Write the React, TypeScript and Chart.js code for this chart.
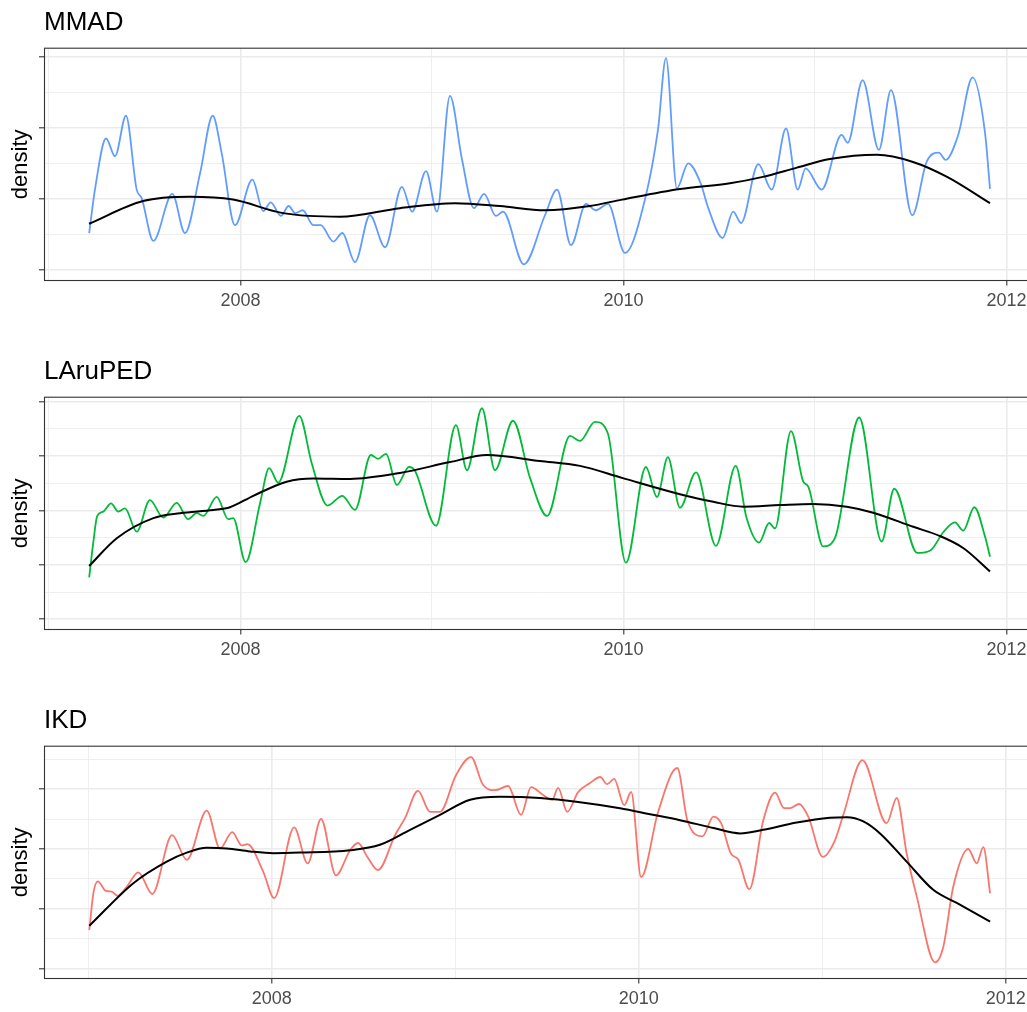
import { useEffect, useRef } from "react";
import { Chart, registerables } from "chart.js";

Chart.register(...registerables);

const FONT = "'Liberation Sans', Arial, Helvetica, sans-serif";

// Year grid: every year gets a grid line, even years are labelled
const YEAR_TICKS = [2007, 2008, 2009, 2010, 2011, 2012];
const YEAR_LABELS = [2008, 2010, 2012];

// ---- MMAD ----
const MMAD_YEARS = [
  2007.21, 2007.24, 2007.298, 2007.345, 2007.402, 2007.458, 2007.484, 2007.545, 2007.644, 2007.71,
  2007.789, 2007.855, 2007.902, 2007.971, 2008.062, 2008.119, 2008.158, 2008.211, 2008.252, 2008.285,
  2008.325, 2008.38, 2008.419, 2008.485, 2008.532, 2008.598, 2008.676, 2008.755, 2008.843, 2008.896,
  2008.969, 2009.026, 2009.094, 2009.157, 2009.219, 2009.272, 2009.334, 2009.371, 2009.48, 2009.59,
  2009.653, 2009.726, 2009.804, 2009.856, 2009.919, 2010.008, 2010.112, 2010.18, 2010.222, 2010.279,
  2010.338, 2010.403, 2010.443, 2010.518, 2010.573, 2010.614, 2010.704, 2010.774, 2010.849, 2010.91,
  2010.951, 2011.035, 2011.139, 2011.171, 2011.249, 2011.334, 2011.397, 2011.508, 2011.583, 2011.647,
  2011.682, 2011.748, 2011.823, 2011.888, 2011.914,
];
const MMAD_DENSITY = [
  0.52, 1.13, 1.85, 1.6, 2.17, 1.13, 1.01, 0.41, 1.07, 0.52,
  1.36, 2.17, 1.64, 0.63, 1.27, 0.83, 0.95, 0.76, 0.9, 0.8,
  0.84, 0.63, 0.63, 0.4, 0.52, 0.11, 0.77, 0.32, 1.17, 0.82,
  1.39, 0.82, 2.45, 1.55, 0.87, 1.07, 0.76, 0.82, 0.08, 0.77,
  1.13, 0.35, 0.93, 0.84, 0.93, 0.24, 0.99, 1.97, 2.98, 1.15,
  1.5, 1.22, 0.87, 0.45, 0.82, 0.66, 1.49, 1.13, 1.99, 1.13,
  1.43, 1.13, 1.9, 1.79, 2.67, 1.69, 2.53, 0.77, 1.52, 1.65,
  1.55, 1.9, 2.71, 1.93, 1.14,
];
const MMAD_TREND_YEARS = [
  2007.209, 2007.491, 2007.736, 2007.961, 2008.222, 2008.52, 2008.833, 2009.12, 2009.355, 2009.59,
  2009.825, 2009.992, 2010.295, 2010.556, 2010.728, 2010.906, 2011.078, 2011.324, 2011.512, 2011.69,
  2011.914,
];
const MMAD_TREND = [
  0.65, 0.97, 1.03, 0.99, 0.8, 0.75, 0.87, 0.94, 0.9, 0.84,
  0.9, 0.99, 1.14, 1.22, 1.31, 1.44, 1.56, 1.62, 1.52, 1.31,
  0.94,
];
const MMAD_Y_TICKS = [0, 0.5, 1, 1.5, 2, 2.5, 3];

// ---- LAruPED ----
const LARUPED_YEARS = [
  2007.21, 2007.231, 2007.252, 2007.284, 2007.324, 2007.362, 2007.397, 2007.458, 2007.527, 2007.597,
  2007.667, 2007.727, 2007.771, 2007.806, 2007.876, 2007.936, 2007.962, 2008.027, 2008.102, 2008.15,
  2008.197, 2008.307, 2008.372, 2008.455, 2008.532, 2008.598, 2008.681, 2008.718, 2008.76, 2008.817,
  2008.88, 2008.911, 2009.021, 2009.125, 2009.183, 2009.261, 2009.329, 2009.423, 2009.512, 2009.601,
  2009.721, 2009.773, 2009.851, 2009.919, 2010.013, 2010.117, 2010.175, 2010.232, 2010.295, 2010.379,
  2010.483, 2010.586, 2010.643, 2010.708, 2010.761, 2010.791, 2010.875, 2010.939, 2010.965, 2011.043,
  2011.104, 2011.231, 2011.348, 2011.414, 2011.534, 2011.604, 2011.67, 2011.731, 2011.774, 2011.832,
  2011.888, 2011.914,
];
const LARUPED_DENSITY = [
  0.77, 1.4, 1.9, 1.98, 2.13, 1.98, 2.04, 1.61, 2.19, 1.87,
  2.14, 1.84, 1.95, 1.9, 2.25, 1.84, 1.86, 1.05, 2.13, 2.78,
  2.51, 3.74, 2.87, 2.09, 2.27, 2.01, 3.02, 2.95, 3.04, 2.47,
  2.8, 2.73, 1.72, 3.57, 2.74, 3.88, 2.74, 3.65, 2.6, 1.9,
  3.37, 3.28, 3.63, 3.41, 1.04, 2.8, 2.25, 2.98, 2.05, 2.7,
  1.35, 2.82, 1.86, 1.41, 1.77, 1.67, 3.46, 2.53, 2.44, 1.34,
  1.49, 3.71, 1.43, 2.4, 1.22, 1.27, 1.6, 1.78, 1.63, 2.06,
  1.52, 1.15,
];
const LARUPED_TREND_YEARS = [
  2007.21, 2007.354, 2007.545, 2007.684, 2007.858, 2007.945, 2008.067, 2008.241, 2008.38, 2008.572,
  2008.833, 2009.094, 2009.287, 2009.564, 2009.773, 2009.992, 2010.295, 2010.469, 2010.626, 2010.817,
  2010.991, 2011.166, 2011.304, 2011.513, 2011.653, 2011.774, 2011.914,
];
const LARUPED_TREND = [
  0.98, 1.49, 1.86, 1.95, 2.01, 2.06, 2.27, 2.53, 2.59, 2.58,
  2.69, 2.89, 3.02, 2.91, 2.82, 2.6, 2.3, 2.16, 2.07, 2.1,
  2.12, 2.07, 1.96, 1.7, 1.53, 1.31, 0.88,
];
const LARUPED_Y_TICKS = [0, 0.5, 1, 1.5, 2, 2.5, 3, 3.5, 4];

// ---- IKD ----
const IKD_YEARS = [
  2007.006, 2007.028, 2007.052, 2007.097, 2007.128, 2007.159, 2007.21, 2007.273, 2007.349, 2007.457,
  2007.537, 2007.646, 2007.718, 2007.785, 2007.837, 2007.867, 2007.954, 2008.013, 2008.122, 2008.196,
  2008.269, 2008.35, 2008.427, 2008.47, 2008.525, 2008.579, 2008.672, 2008.727, 2008.797, 2008.863,
  2008.917, 2009.004, 2009.086, 2009.151, 2009.217, 2009.288, 2009.359, 2009.413, 2009.479, 2009.528,
  2009.561, 2009.61, 2009.67, 2009.735, 2009.79, 2009.828, 2009.866, 2009.921, 2009.959, 2010.013,
  2010.106, 2010.21, 2010.265, 2010.347, 2010.407, 2010.449, 2010.501, 2010.543, 2010.603, 2010.679,
  2010.743, 2010.792, 2010.825, 2010.874, 2010.924, 2011.003, 2011.07, 2011.115, 2011.219, 2011.351,
  2011.406, 2011.46, 2011.515, 2011.615, 2011.66, 2011.714, 2011.796, 2011.842, 2011.878, 2011.915,
];
const IKD_DENSITY = [
  0.65, 1.26, 1.46, 1.3, 1.29, 1.22, 1.37, 1.61, 1.25, 2.23,
  1.82, 2.64, 2.01, 2.28, 2.06, 2.08, 1.62, 1.18, 2.36, 1.76,
  2.5, 1.56, 1.98, 2.1, 1.85, 1.65, 2.23, 2.52, 2.97, 2.62,
  2.62, 3.23, 3.53, 3.07, 2.98, 3.05, 2.57, 3.03, 2.9, 2.82,
  3.02, 2.62, 2.95, 3.1, 3.2, 3.08, 3.17, 2.73, 2.95, 1.53,
  2.62, 3.35, 2.48, 2.21, 2.54, 2.43, 1.93, 1.82, 1.33, 2.48,
  2.94, 2.68, 2.68, 2.75, 2.54, 1.87, 2.15, 2.57, 3.48, 2.43,
  2.85, 1.93, 1.21, 0.11, 0.37, 1.37, 2.0, 1.76, 2.03, 1.26,
];
const IKD_TREND_YEARS = [
  2007.006, 2007.246, 2007.428, 2007.537, 2007.646, 2007.755, 2007.882, 2008.009, 2008.154, 2008.427,
  2008.59, 2008.754, 2008.917, 2009.081, 2009.244, 2009.462, 2009.68, 2009.898, 2010.062, 2010.225,
  2010.407, 2010.552, 2010.679, 2010.861, 2011.042, 2011.134, 2011.224, 2011.315, 2011.46, 2011.605,
  2011.733, 2011.915,
];
const IKD_TREND = [
  0.72, 1.43, 1.79, 1.94, 2.02, 2.01, 1.96, 1.93, 1.94, 1.98,
  2.07, 2.32, 2.57, 2.82, 2.87, 2.85, 2.78, 2.68, 2.58, 2.48,
  2.35, 2.26, 2.32, 2.44, 2.52, 2.53, 2.46, 2.26, 1.79, 1.32,
  1.1, 0.79,
];
const IKD_Y_TICKS = [0, 0.5, 1, 1.5, 2, 2.5, 3, 3.5];

type Panel = {
  title: string;
  color: string;
  years: number[];
  values: number[];
  trendYears: number[];
  trend: number[];
  yTicks: number[];
  xMin: number;
  xMax: number;
  yMin: number;
  yMax: number;
  top: number;
  width: number;
};

const PANELS: Panel[] = [
  {
    title: "MMAD", color: "#619CFF",
    years: MMAD_YEARS, values: MMAD_DENSITY, trendYears: MMAD_TREND_YEARS, trend: MMAD_TREND,
    yTicks: MMAD_Y_TICKS, xMin: 2006.974, xMax: 2012.149, yMin: -0.155, yMax: 3.127,
    top: 0, width: 1035,
  },
  {
    title: "LAruPED", color: "#00BA38",
    years: LARUPED_YEARS, values: LARUPED_DENSITY, trendYears: LARUPED_TREND_YEARS, trend: LARUPED_TREND,
    yTicks: LARUPED_Y_TICKS, xMin: 2006.974, xMax: 2012.149, yMin: -0.197, yMax: 4.092,
    top: 349, width: 1035,
  },
  {
    title: "IKD", color: "#F8766D",
    years: IKD_YEARS, values: IKD_DENSITY, trendYears: IKD_TREND_YEARS, trend: IKD_TREND,
    yTicks: IKD_Y_TICKS, xMin: 2006.759, xMax: 2012.165, yMin: -0.167, yMax: 3.722,
    top: 698, width: 1036,
  },
];

const CANVAS_HEIGHT = 313;

const GRID_COLOR = "#EBEBEB";
const AXIS_COLOR = "#333333";

// Full rectangle around the plotting region, drawn over the lines
const panelBorder = {
  id: "panelBorder",
  afterDraw(chart: any) {
    const { ctx, chartArea: a } = chart;
    ctx.save();
    ctx.strokeStyle = AXIS_COLOR;
    ctx.lineWidth = 1.1;
    ctx.strokeRect(a.left + 0.5, a.top + 0.5, a.right - a.left - 1, a.bottom - a.top - 1);
    ctx.restore();
  },
};

function points(xs: number[], ys: number[]) {
  return xs.map((x, i) => ({ x, y: ys[i] }));
}

function buildChart(canvas: HTMLCanvasElement, p: Panel) {
  const isMajorYear = (v: number) => YEAR_LABELS.includes(v);
  const isMajorY = (v: number) => Number.isInteger(v);
  return new Chart(canvas, {
    type: "line",
    data: {
      datasets: [
        {
          data: points(p.trendYears, p.trend),
          borderColor: "#000000",
          borderWidth: 2,
          pointRadius: 0,
          cubicInterpolationMode: "monotone",
          order: 0,
        },
        {
          data: points(p.years, p.values),
          borderColor: p.color,
          borderWidth: 1.8,
          pointRadius: 0,
          cubicInterpolationMode: "monotone",
          order: 1,
        },
      ],
    },
    options: {
      animation: false,
      responsive: false,
      devicePixelRatio: 1,
      events: [],
      layout: { padding: 0 },
      plugins: {
        legend: { display: false },
        tooltip: { enabled: false },
        title: {
          display: true,
          text: p.title,
          align: "start",
          fullSize: false,
          color: "#000000",
          font: { family: FONT, size: 26, weight: "normal", lineHeight: 1.2 },
          padding: { top: 7, bottom: 9.5 },
        },
      },
      scales: {
        x: {
          type: "linear",
          min: p.xMin,
          max: p.xMax,
          afterBuildTicks: (s: any) => {
            s.ticks = YEAR_TICKS.map((v) => ({ value: v }));
          },
          afterFit: (s: any) => {
            s.height = 32;
          },
          border: { display: false },
          grid: {
            color: GRID_COLOR,
            lineWidth: (c: any) => (c.tick && isMajorYear(c.tick.value) ? 1.6 : 0.8),
            tickLength: 4.5,
            tickWidth: 1.1,
            tickColor: (c: any) => (c.tick && isMajorYear(c.tick.value) ? AXIS_COLOR : "rgba(0,0,0,0)"),
          },
          ticks: {
            autoSkip: false,
            maxRotation: 0,
            padding: 5,
            color: "#4D4D4D",
            font: { family: FONT, size: 18 },
            callback: (v: any) => (isMajorYear(Number(v)) ? String(v) : ""),
          },
        },
        y: {
          type: "linear",
          min: p.yMin,
          max: p.yMax,
          afterBuildTicks: (s: any) => {
            s.ticks = p.yTicks.map((v) => ({ value: v }));
          },
          afterFit: (s: any) => {
            s.width = 44;
          },
          border: { display: false },
          grid: {
            color: GRID_COLOR,
            lineWidth: (c: any) => (c.tick && isMajorY(c.tick.value) ? 1.6 : 0.8),
            tickLength: 5,
            tickWidth: 1.1,
            tickColor: (c: any) => (c.tick && isMajorY(c.tick.value) ? AXIS_COLOR : "rgba(0,0,0,0)"),
          },
          ticks: { display: false },
          title: {
            display: true,
            text: "density",
            color: "#000000",
            font: { family: FONT, size: 22, weight: "normal", lineHeight: 1.2 },
            padding: { top: 8, bottom: 0 },
          },
        },
      },
    },
    plugins: [panelBorder],
  } as any);
}

function DensityPanel({ panel }: { panel: Panel }) {
  const ref = useRef<HTMLCanvasElement | null>(null);
  useEffect(() => {
    if (!ref.current) return;
    const chart = buildChart(ref.current, panel);
    return () => chart.destroy();
  }, [panel]);
  return (
    <canvas
      ref={ref}
      width={panel.width}
      height={CANVAS_HEIGHT}
      style={{ position: "absolute", left: 0, top: panel.top }}
    />
  );
}

export default function App() {
  return (
    <div
      style={{
        position: "fixed",
        left: 0,
        top: 0,
        width: 1027,
        height: 1012,
        overflow: "hidden",
        background: "#ffffff",
      }}
    >
      {PANELS.map((p) => (
        <DensityPanel key={p.title} panel={p} />
      ))}
    </div>
  );
}
